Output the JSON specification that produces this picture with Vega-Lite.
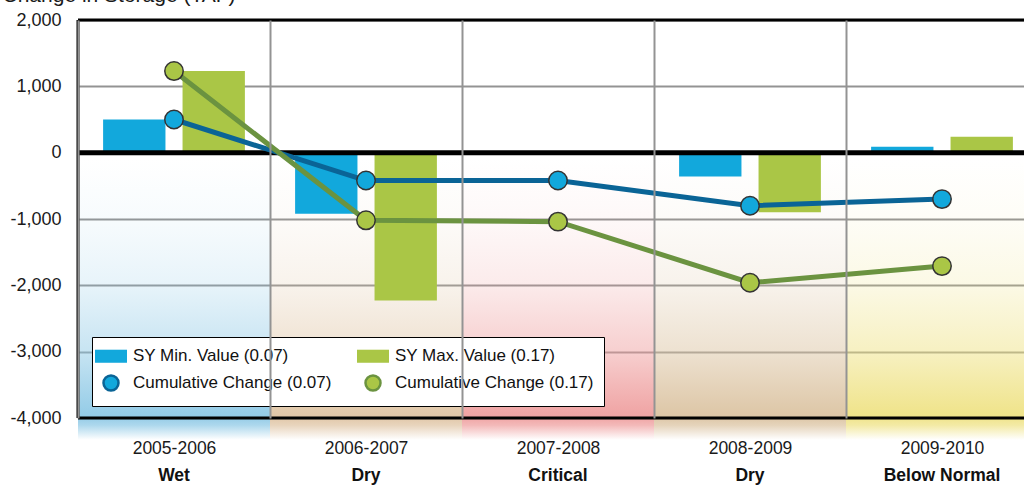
{
  "$schema": "https://vega.github.io/schema/vega-lite/v6.json",
  "width": 960,
  "height": 398,
  "autosize": {"type": "none"},
  "padding": {"left": 78, "top": 20, "right": 0, "bottom": 69},
  "background": "#ffffff",
  "datasets": {
    "years": [
      {"year": "2005-2006", "type": "Wet"},
      {"year": "2006-2007", "type": "Dry"},
      {"year": "2007-2008", "type": "Critical"},
      {"year": "2008-2009", "type": "Dry"},
      {"year": "2009-2010", "type": "Below Normal"}
    ],
    "bars": [
      {"year": "2005-2006", "series": "SY Min. Value (0.07)", "value": 500},
      {"year": "2005-2006", "series": "SY Max. Value (0.17)", "value": 1230},
      {"year": "2006-2007", "series": "SY Min. Value (0.07)", "value": -920},
      {"year": "2006-2007", "series": "SY Max. Value (0.17)", "value": -2230},
      {"year": "2007-2008", "series": "SY Min. Value (0.07)", "value": 0},
      {"year": "2007-2008", "series": "SY Max. Value (0.17)", "value": 0},
      {"year": "2008-2009", "series": "SY Min. Value (0.07)", "value": -360},
      {"year": "2008-2009", "series": "SY Max. Value (0.17)", "value": -900},
      {"year": "2009-2010", "series": "SY Min. Value (0.07)", "value": 90},
      {"year": "2009-2010", "series": "SY Max. Value (0.17)", "value": 240}
    ],
    "cum": [
      {"year": "2005-2006", "series": "Cumulative Change (0.07)", "value": 500},
      {"year": "2006-2007", "series": "Cumulative Change (0.07)", "value": -420},
      {"year": "2007-2008", "series": "Cumulative Change (0.07)", "value": -420},
      {"year": "2008-2009", "series": "Cumulative Change (0.07)", "value": -800},
      {"year": "2009-2010", "series": "Cumulative Change (0.07)", "value": -700},
      {"year": "2005-2006", "series": "Cumulative Change (0.17)", "value": 1230},
      {"year": "2006-2007", "series": "Cumulative Change (0.17)", "value": -1020},
      {"year": "2007-2008", "series": "Cumulative Change (0.17)", "value": -1040},
      {"year": "2008-2009", "series": "Cumulative Change (0.17)", "value": -1960},
      {"year": "2009-2010", "series": "Cumulative Change (0.17)", "value": -1710}
    ],
    "one": [{"k": 1}]
  },
  "layer": [
    {
      "data": {"name": "years"},
      "transform": [{"filter": "datum.year === '2005-2006'"}],
      "mark": {"type": "rect", "fill": {"gradient": "linear", "x1": 0, "y1": 0, "x2": 0, "y2": 1, "stops": [
        {"offset": 0, "color": "rgba(138,199,229,0)"},
        {"offset": 0.33, "color": "rgba(138,199,229,0)"},
        {"offset": 0.48, "color": "rgba(138,199,229,0.07)"},
        {"offset": 0.63, "color": "rgba(138,199,229,0.2)"},
        {"offset": 0.79, "color": "rgba(138,199,229,0.48)"},
        {"offset": 0.945, "color": "rgba(138,199,229,0.92)"},
        {"offset": 0.965, "color": "rgba(138,199,229,0.7)"},
        {"offset": 1, "color": "rgba(138,199,229,0)"}]}},
      "encoding": {
        "x": {
          "field": "year", "type": "nominal", "sort": null,
          "scale": {"domain": ["2005-2006", "2006-2007", "2007-2008", "2008-2009", "2009-2010"], "paddingInner": 0, "paddingOuter": 0},
          "axis": {"title": null, "labelAngle": 0, "labelFontSize": 17.5, "labelColor": "#1a1a1a", "labelPadding": 21, "ticks": false, "domain": false, "grid": true, "gridColor": "#939393", "gridWidth": 2, "tickBand": "extent"}
        },
        "y": {
          "datum": 2000,
          "scale": {"domain": [-4000, 2000], "nice": false, "zero": false},
          "axis": {
            "title": "Change in Storage (TAF)", "titleAngle": 0, "titleAlign": "left", "titleBaseline": "alphabetic",
            "titleX": -76, "titleY": -19, "titleFontSize": 21, "titleFontWeight": "normal", "titleColor": "#1a1a1a",
            "values": [-4000, -3000, -2000, -1000, 0, 1000, 2000],
            "labelExpr": "replace(format(datum.value, ',.0f'), '\u2212', '-')",
            "labelFontSize": 18, "labelColor": "#1a1a1a", "labelPadding": 17, "ticks": false, "domain": false,
            "grid": true, "gridColor": "#939393", "gridWidth": 2
          }
        },
        "y2": {"datum": -4330}
      }
    },
    {
      "data": {"name": "years"},
      "transform": [{"filter": "datum.year === '2006-2007'"}],
      "mark": {"type": "rect", "fill": {"gradient": "linear", "x1": 0, "y1": 0, "x2": 0, "y2": 1, "stops": [
        {"offset": 0, "color": "rgba(222,194,160,0)"},
        {"offset": 0.33, "color": "rgba(222,194,160,0)"},
        {"offset": 0.48, "color": "rgba(222,194,160,0.07)"},
        {"offset": 0.63, "color": "rgba(222,194,160,0.2)"},
        {"offset": 0.79, "color": "rgba(222,194,160,0.48)"},
        {"offset": 0.945, "color": "rgba(222,194,160,0.92)"},
        {"offset": 0.965, "color": "rgba(222,194,160,0.7)"},
        {"offset": 1, "color": "rgba(222,194,160,0)"}]}},
      "encoding": {"x": {"field": "year", "type": "nominal"}, "y": {"datum": 2000}, "y2": {"datum": -4330}}
    },
    {
      "data": {"name": "years"},
      "transform": [{"filter": "datum.year === '2007-2008'"}],
      "mark": {"type": "rect", "fill": {"gradient": "linear", "x1": 0, "y1": 0, "x2": 0, "y2": 1, "stops": [
        {"offset": 0, "color": "rgba(238,155,155,0)"},
        {"offset": 0.33, "color": "rgba(238,155,155,0)"},
        {"offset": 0.48, "color": "rgba(238,155,155,0.07)"},
        {"offset": 0.63, "color": "rgba(238,155,155,0.2)"},
        {"offset": 0.79, "color": "rgba(238,155,155,0.48)"},
        {"offset": 0.945, "color": "rgba(238,155,155,0.92)"},
        {"offset": 0.965, "color": "rgba(238,155,155,0.7)"},
        {"offset": 1, "color": "rgba(238,155,155,0)"}]}},
      "encoding": {"x": {"field": "year", "type": "nominal"}, "y": {"datum": 2000}, "y2": {"datum": -4330}}
    },
    {
      "data": {"name": "years"},
      "transform": [{"filter": "datum.year === '2008-2009'"}],
      "mark": {"type": "rect", "fill": {"gradient": "linear", "x1": 0, "y1": 0, "x2": 0, "y2": 1, "stops": [
        {"offset": 0, "color": "rgba(218,193,158,0)"},
        {"offset": 0.33, "color": "rgba(218,193,158,0)"},
        {"offset": 0.48, "color": "rgba(218,193,158,0.07)"},
        {"offset": 0.63, "color": "rgba(218,193,158,0.2)"},
        {"offset": 0.79, "color": "rgba(218,193,158,0.48)"},
        {"offset": 0.945, "color": "rgba(218,193,158,0.92)"},
        {"offset": 0.965, "color": "rgba(218,193,158,0.7)"},
        {"offset": 1, "color": "rgba(218,193,158,0)"}]}},
      "encoding": {"x": {"field": "year", "type": "nominal"}, "y": {"datum": 2000}, "y2": {"datum": -4330}}
    },
    {
      "data": {"name": "years"},
      "transform": [{"filter": "datum.year === '2009-2010'"}],
      "mark": {"type": "rect", "fill": {"gradient": "linear", "x1": 0, "y1": 0, "x2": 0, "y2": 1, "stops": [
        {"offset": 0, "color": "rgba(238,225,127,0)"},
        {"offset": 0.33, "color": "rgba(238,225,127,0)"},
        {"offset": 0.48, "color": "rgba(238,225,127,0.07)"},
        {"offset": 0.63, "color": "rgba(238,225,127,0.2)"},
        {"offset": 0.79, "color": "rgba(238,225,127,0.48)"},
        {"offset": 0.945, "color": "rgba(238,225,127,0.92)"},
        {"offset": 0.965, "color": "rgba(238,225,127,0.7)"},
        {"offset": 1, "color": "rgba(238,225,127,0)"}]}},
      "encoding": {"x": {"field": "year", "type": "nominal"}, "y": {"datum": 2000}, "y2": {"datum": -4330}}
    },
    {
      "data": {"name": "bars"},
      "mark": {"type": "bar"},
      "encoding": {
        "x": {"field": "year", "type": "nominal"},
        "xOffset": {"field": "series", "type": "nominal", "sort": null, "scale": {"domain": ["SY Min. Value (0.07)", "SY Max. Value (0.17)"], "paddingInner": 0.215, "paddingOuter": 0.316}},
        "y": {"field": "value", "type": "quantitative"},
        "fill": {
          "field": "series", "type": "nominal",
          "scale": {"domain": ["SY Min. Value (0.07)", "Cumulative Change (0.07)", "SY Max. Value (0.17)", "Cumulative Change (0.17)"], "range": ["#12a8dc", "#12a8dc", "#aac646", "#aac646"]},
          "legend": {
            "title": null, "orient": "none", "legendX": 14, "legendY": 317, "columns": 2, "columnPadding": 20, "rowPadding": 2, "padding": 10,
            "fillColor": "#ffffff", "strokeColor": "#000000", "symbolSize": 225, "symbolStrokeWidth": 2.5, "labelOffset": 13,
            "labelFont": "Liberation Sans", "labelFontSize": 17, "labelColor": "#111111", "labelLimit": 320
          }
        }
      }
    },
    {
      "data": {"name": "one"},
      "mark": {"type": "rule", "color": "#000000", "strokeWidth": 5},
      "encoding": {"y": {"datum": 0}}
    },
    {
      "data": {"name": "one"},
      "mark": {"type": "rule", "color": "#000000", "strokeWidth": 3},
      "encoding": {"y": {"datum": 2000}}
    },
    {
      "data": {"name": "one"},
      "mark": {"type": "rule", "color": "#000000", "strokeWidth": 3},
      "encoding": {"y": {"datum": -4000}}
    },
    {
      "data": {"name": "years"},
      "transform": [{"filter": "datum.year === '2005-2006'"}],
      "mark": {"type": "rule", "color": "#000000", "strokeWidth": 3},
      "encoding": {"x": {"field": "year", "type": "nominal", "bandPosition": 0}}
    },
    {
      "data": {"name": "cum"},
      "transform": [{"filter": "datum.series === 'Cumulative Change (0.07)'"}],
      "mark": {"type": "line", "strokeWidth": 5},
      "encoding": {
        "x": {"field": "year", "type": "nominal"},
        "y": {"field": "value", "type": "quantitative"},
        "stroke": {
          "field": "series", "type": "nominal",
          "scale": {"domain": ["SY Min. Value (0.07)", "Cumulative Change (0.07)", "SY Max. Value (0.17)", "Cumulative Change (0.17)"], "range": ["transparent", "#0a6496", "transparent", "#6b9340"]},
          "legend": {
            "title": null, "orient": "none", "legendX": 14, "legendY": 317, "columns": 2, "columnPadding": 20, "rowPadding": 2, "padding": 10,
            "fillColor": "#ffffff", "strokeColor": "#000000", "symbolSize": 225, "symbolStrokeWidth": 2.5, "labelOffset": 13,
            "labelFont": "Liberation Sans", "labelFontSize": 17, "labelColor": "#111111", "labelLimit": 320
          }
        }
      }
    },
    {
      "data": {"name": "cum"},
      "transform": [{"filter": "datum.series === 'Cumulative Change (0.17)'"}],
      "mark": {"type": "line", "strokeWidth": 5},
      "encoding": {
        "x": {"field": "year", "type": "nominal"},
        "y": {"field": "value", "type": "quantitative"},
        "stroke": {"field": "series", "type": "nominal"}
      }
    },
    {
      "data": {"name": "cum"},
      "mark": {"type": "point", "filled": true, "stroke": "#333333", "strokeWidth": 1.5, "size": 340, "opacity": 1},
      "encoding": {
        "x": {"field": "year", "type": "nominal"},
        "y": {"field": "value", "type": "quantitative"},
        "fill": {"field": "series", "type": "nominal"},
        "shape": {
          "field": "series", "type": "nominal",
          "scale": {"domain": ["SY Min. Value (0.07)", "Cumulative Change (0.07)", "SY Max. Value (0.17)", "Cumulative Change (0.17)"], "range": ["M-2.13,-0.87L2.13,-0.87L2.13,0.87L-2.13,0.87Z", "circle", "M-2.13,-0.87L2.13,-0.87L2.13,0.87L-2.13,0.87Z", "circle"]},
          "legend": {
            "title": null, "orient": "none", "legendX": 14, "legendY": 317, "columns": 2, "columnPadding": 20, "rowPadding": 2, "padding": 10,
            "fillColor": "#ffffff", "strokeColor": "#000000", "symbolSize": 225, "symbolStrokeWidth": 2.5, "labelOffset": 13,
            "labelFont": "Liberation Sans", "labelFontSize": 17, "labelColor": "#111111", "labelLimit": 320
          }
        }
      }
    },
    {
      "data": {"name": "years"},
      "mark": {"type": "text", "baseline": "top", "dy": 49, "fontSize": 17.5, "fontWeight": "bold", "font": "Liberation Sans", "color": "#111111"},
      "encoding": {
        "x": {"field": "year", "type": "nominal"},
        "y": {"datum": -4000},
        "text": {"field": "type", "type": "nominal"}
      }
    }
  ],
  "config": {
    "font": "Liberation Sans",
    "view": {"stroke": null},
    "axis": {"labelFont": "Liberation Sans", "titleFont": "Liberation Sans"}
  }
}
